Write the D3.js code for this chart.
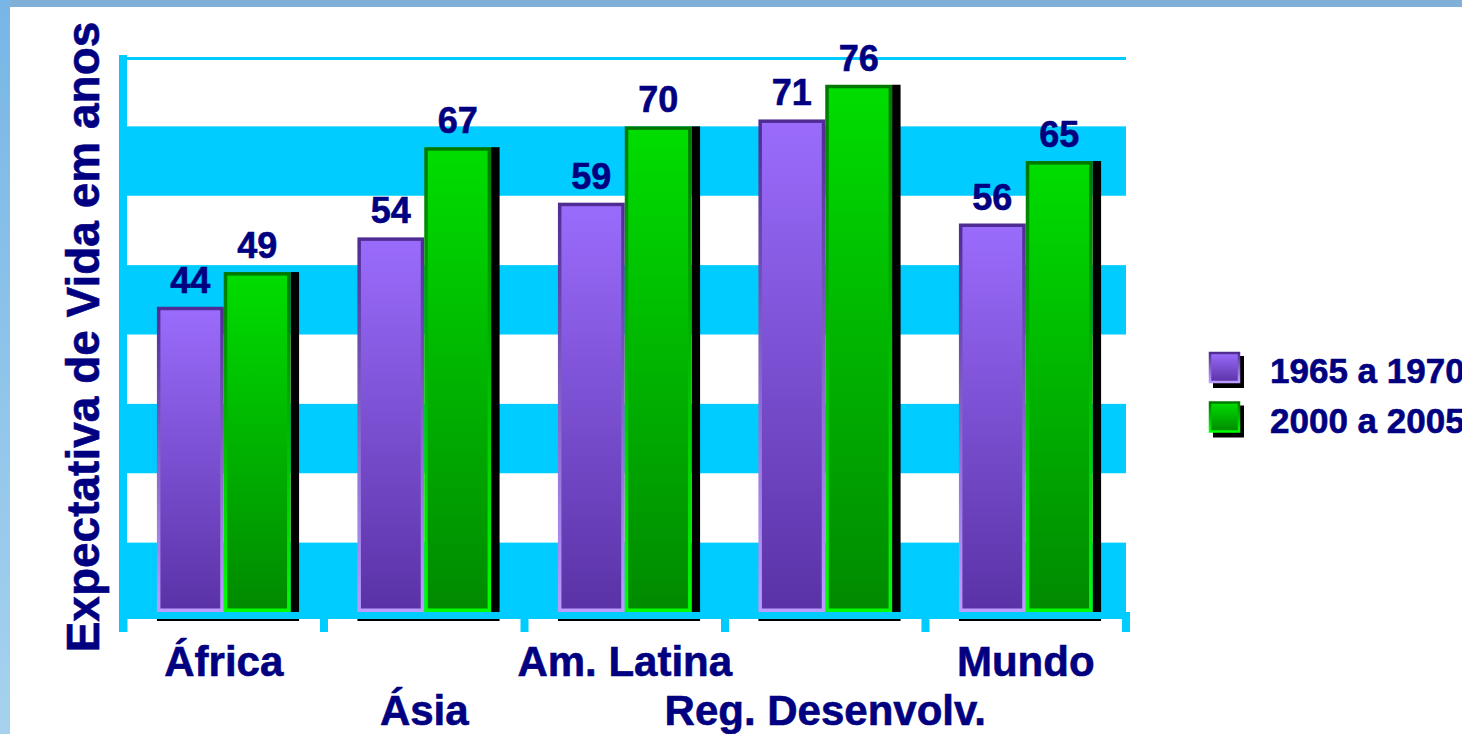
<!DOCTYPE html>
<html>
<head>
<meta charset="utf-8">
<script src="https://cdn.jsdelivr.net/npm/d3@7"></script>
<style>
  html, body { margin: 0; padding: 0; background: #ffffff; }
  svg { display: block; }
  text { font-family: "Liberation Sans", Arial, sans-serif; font-weight: bold; fill: #000080; stroke: #000080; stroke-width: 0.6px; }
</style>
</head>
<body>
<svg id="chart" width="1462" height="734"></svg>
<script>
// Life expectancy by region, two periods
const categories = ["África", "Ásia", "Am. Latina", "Reg. Desenvolv.", "Mundo"];
const seriesNames = ["1965 a 1970", "2000 a 2005"];
const values1965 = [44, 54, 59, 71, 56];
const values2000 = [49, 67, 70, 76, 65];
const yTicks = [0, 10, 20, 30, 40, 50, 60, 70, 80];
const yTitle = "Expectativa de Vida em anos";

const W = 1462, H = 734;
const svg = d3.select("#chart");
const defs = svg.append("defs");

function vGrad(id, top, bottom) {
  const g = defs.append("linearGradient").attr("id", id)
    .attr("x1", 0).attr("y1", 0).attr("x2", 0).attr("y2", 1);
  g.append("stop").attr("offset", "0%").attr("stop-color", top);
  g.append("stop").attr("offset", "100%").attr("stop-color", bottom);
}
vGrad("purpleFill", "#9b6cfc", "#5a32a6");
vGrad("purpleEdge", "#4e2c94", "#bb9dff");
vGrad("greenFill", "#00dd00", "#008a00");
vGrad("greenEdge", "#007800", "#00ff00");
vGrad("frameLeft", "#78b6e6", "#a6d2ee");

const fills = ["url(#purpleFill)", "url(#greenFill)"];
const edges = ["url(#purpleEdge)", "url(#greenEdge)"];

// page frame
svg.append("rect").attr("x", 0).attr("y", 0).attr("width", W).attr("height", 7).attr("fill", "#80b0d8");
svg.append("rect").attr("x", 0).attr("y", 0).attr("width", 10).attr("height", H).attr("fill", "url(#frameLeft)");

// scales
const x0 = d3.scaleBand().domain(categories).range([123.5, 1126]).paddingInner(0).paddingOuter(0);
const x1 = d3.scaleBand().domain(seriesNames).range([0, x0.bandwidth()]).paddingInner(0).paddingOuter(0.5);
const y = d3.scaleLinear().domain([0, 80]).range([612, 57]);

const cyan = "#00ccff";
const plotLeft = 127, plotRight = 1126;

// alternating bands
const bandStarts = yTicks.filter(t => t < 80 && (t / 10) % 2 === 0);
svg.append("g").selectAll("rect").data(bandStarts).join("rect")
  .attr("x", plotLeft)
  .attr("y", d => y(d + 10))
  .attr("width", plotRight - plotLeft)
  .attr("height", d => y(d) - y(d + 10) + (d === 0 ? 7 : 0))
  .attr("fill", cyan);

// floor strip under the plot
svg.append("rect").attr("x", plotLeft).attr("y", y(0)).attr("width", 1130 - plotLeft).attr("height", 7).attr("fill", cyan);

// top gridline
svg.append("rect").attr("x", plotLeft).attr("y", y(80)).attr("width", plotRight - plotLeft).attr("height", 3).attr("fill", cyan);

// left axis strip
svg.append("rect").attr("x", 119).attr("y", 55).attr("width", 8).attr("height", 632 - 55).attr("fill", cyan);

// category ticks
const tickPos = categories.map(c => x0(c)).concat([x0.range()[1]]);
svg.append("g").selectAll("rect").data(tickPos).join("rect")
  .attr("x", d => d - 4).attr("y", y(0) + 7).attr("width", 8).attr("height", 13)
  .attr("fill", cyan);

// bars
const rows = categories.map((c, i) => ({ cat: c, vals: [values1965[i], values2000[i]] }));
const groups = svg.append("g").selectAll("g").data(rows).join("g")
  .attr("transform", d => `translate(${x0(d.cat)},0)`);

const depth = 8.5, sw = 3.5;

// floor shadow line below each pair
groups.append("rect")
  .attr("x", x1(seriesNames[0]))
  .attr("y", y(0) + 7)
  .attr("width", x1.bandwidth() * 2 + depth)
  .attr("height", 2)
  .attr("fill", "#000");

// right-side depth of the front bar
groups.append("rect")
  .attr("x", x1(seriesNames[1]) + x1.bandwidth())
  .attr("y", d => y(d.vals[1]))
  .attr("width", depth)
  .attr("height", d => y(0) - y(d.vals[1]))
  .attr("fill", "#000");

groups.selectAll("rect.bar").data(d => d.vals.map((v, k) => ({ v, k }))).join("rect")
  .attr("class", "bar")
  .attr("x", d => x1(seriesNames[d.k]) + sw / 2)
  .attr("y", d => y(d.v) + sw / 2)
  .attr("width", x1.bandwidth() - sw)
  .attr("height", d => y(0) - y(d.v) - sw)
  .attr("fill", d => fills[d.k])
  .attr("stroke", d => edges[d.k])
  .attr("stroke-width", sw);

// value labels
groups.selectAll("text.val").data(d => d.vals.map((v, k) => ({ v, k }))).join("text")
  .attr("class", "val")
  .attr("x", d => x1(seriesNames[d.k]) + x1.bandwidth() / 2)
  .attr("y", d => y(d.v) - 14)
  .attr("text-anchor", "middle")
  .attr("font-size", 36)
  .text(d => d.v);

// category labels, staggered on two rows
svg.append("g").selectAll("text").data(categories).join("text")
  .attr("x", c => x0(c) + x0.bandwidth() / 2)
  .attr("y", (c, i) => i % 2 === 0 ? 676 : 725)
  .attr("text-anchor", "middle")
  .attr("font-size", 42)
  .text(c => c);

// y axis title
svg.append("text")
  .attr("transform", "translate(99,337) rotate(-90)")
  .attr("text-anchor", "middle")
  .attr("font-size", 46)
  .text(yTitle);

// legend
const legend = svg.append("g").selectAll("g").data(seriesNames).join("g")
  .attr("transform", (d, i) => `translate(1209,${352 + i * 49.5})`);
legend.append("rect").attr("x", 4).attr("y", 4).attr("width", 31).attr("height", 32).attr("fill", "#000");
legend.append("rect")
  .attr("x", 1).attr("y", 1).attr("width", 29).attr("height", 29)
  .attr("fill", (d, i) => fills[i])
  .attr("stroke", (d, i) => edges[i])
  .attr("stroke-width", 2.5);
legend.append("text")
  .attr("x", 61).attr("y", 31)
  .attr("font-size", 35)
  .text(d => d);
</script>
</body>
</html>
